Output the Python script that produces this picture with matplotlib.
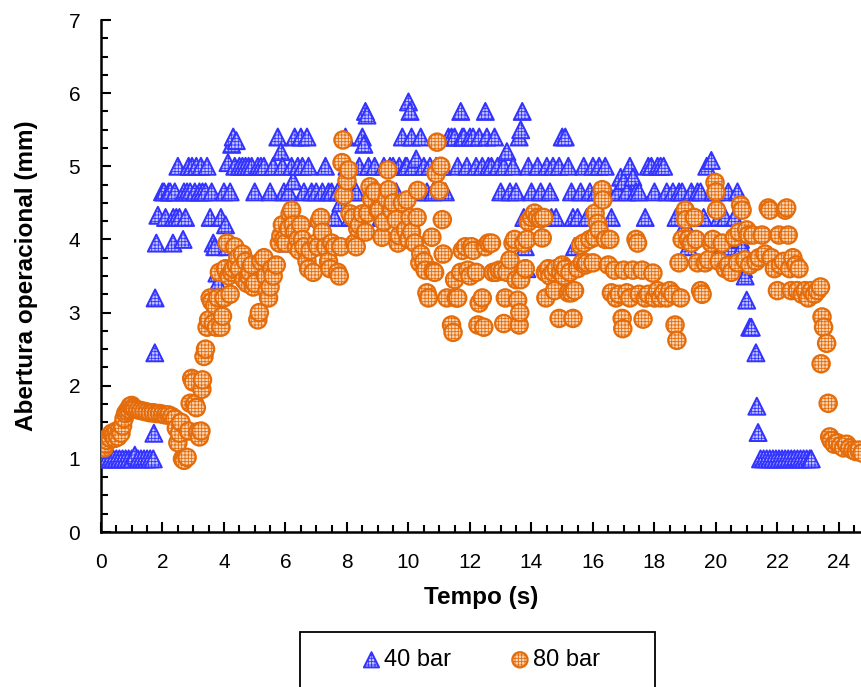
import matplotlib
matplotlib.use("Agg")
import matplotlib.pyplot as plt
from matplotlib.ticker import MultipleLocator
from matplotlib.patches import Rectangle

plt.rcParams['font.family'] = ['Liberation Sans', 'DejaVu Sans']
plt.rcParams['hatch.linewidth'] = 0.6

# ---------------- data: (tempo s, abertura mm) ----------------
pts40 = [
    (0.0, 1.0), (0.1, 1.0), (0.2, 1.0), (0.3, 1.0), (0.4, 1.0), (0.5, 1.0), (0.6, 1.0),
    (0.7, 1.0), (0.8, 1.0), (0.9, 1.0), (1.0, 1.0), (1.1, 1.05), (1.2, 1.0), (1.3, 1.0),
    (1.4, 1.0), (1.5, 1.0), (1.6, 1.0), (1.7, 1.0), (1.72, 1.35), (1.75, 2.45), (1.76, 3.2),
    (1.8, 3.95), (1.85, 4.33), (2.0, 4.65), (2.05, 4.65), (2.1, 4.3), (2.2, 4.65),
    (2.25, 4.65), (2.34, 3.95), (2.35, 4.3), (2.4, 4.65), (2.45, 4.3), (2.5, 5.0),
    (2.55, 4.3), (2.67, 4.0), (2.7, 4.65), (2.75, 4.3), (2.8, 4.65), (2.85, 5.0),
    (2.9, 4.65), (2.96, 5.0), (3.05, 4.65), (3.1, 5.0), (3.2, 4.65), (3.25, 5.0),
    (3.3, 4.65), (3.4, 4.65), (3.45, 5.0), (3.55, 4.3), (3.6, 4.65), (3.65, 3.95),
    (3.7, 3.9), (3.77, 3.54), (3.8, 3.4), (3.9, 4.3), (4.0, 4.65), (4.05, 4.2), (4.1, 3.9),
    (4.13, 5.05), (4.2, 4.65), (4.25, 5.3), (4.3, 5.4), (4.35, 5.0), (4.4, 5.35),
    (4.5, 5.0), (4.6, 5.0), (4.7, 5.0), (4.8, 5.0), (4.9, 5.0), (5.0, 4.65), (5.1, 5.0),
    (5.2, 5.0), (5.3, 5.0), (5.5, 4.65), (5.6, 5.0), (5.75, 5.4), (5.85, 5.2), (5.9, 5.0),
    (5.95, 4.65), (6.0, 4.3), (6.05, 3.95), (6.1, 4.65), (6.2, 5.0), (6.25, 4.8),
    (6.3, 5.4), (6.4, 5.0), (6.5, 5.4), (6.55, 5.0), (6.6, 4.65), (6.7, 5.4), (6.75, 5.0),
    (6.85, 4.65), (7.0, 4.65), (7.1, 4.3), (7.2, 4.65), (7.3, 5.0), (7.4, 4.65),
    (7.5, 4.65), (7.6, 4.3), (7.7, 4.65), (7.8, 4.5), (7.85, 4.65), (7.95, 5.4),
    (8.0, 5.0), (8.1, 4.3), (8.2, 4.65), (8.3, 4.65), (8.4, 5.0), (8.5, 5.4), (8.55, 5.3),
    (8.6, 5.75), (8.65, 5.7), (8.7, 5.0), (8.8, 4.65), (8.9, 5.0), (9.0, 4.65), (9.1, 4.3),
    (9.2, 5.0), (9.3, 4.65), (9.4, 5.0), (9.5, 5.0), (9.6, 4.65), (9.7, 5.0), (9.8, 5.4),
    (9.9, 5.0), (9.95, 5.0), (10.0, 5.88), (10.05, 5.75), (10.1, 5.4), (10.15, 5.0),
    (10.25, 5.1), (10.3, 4.65), (10.4, 5.4), (10.5, 5.0), (10.6, 4.65), (10.7, 5.0),
    (10.8, 4.65), (10.9, 5.0), (11.0, 5.0), (11.1, 5.0), (11.2, 4.65), (11.3, 5.4),
    (11.4, 5.4), (11.5, 5.4), (11.6, 5.0), (11.7, 5.75), (11.75, 5.4), (11.8, 5.4),
    (11.9, 5.0), (12.0, 5.4), (12.1, 5.4), (12.2, 5.0), (12.3, 5.4), (12.4, 5.0),
    (12.5, 5.75), (12.55, 5.4), (12.6, 5.0), (12.7, 5.0), (12.8, 5.4), (12.9, 5.0),
    (13.0, 4.65), (13.1, 5.0), (13.2, 5.2), (13.3, 4.65), (13.4, 5.0), (13.5, 4.65),
    (13.6, 5.4), (13.65, 5.5), (13.7, 5.75), (13.75, 4.3), (13.8, 3.9), (13.85, 3.6),
    (13.9, 5.0), (14.0, 4.65), (14.2, 5.0), (14.3, 4.65), (14.4, 4.3), (14.5, 5.0),
    (14.6, 4.65), (14.65, 4.3), (14.7, 5.0), (14.8, 4.3), (14.9, 5.0), (15.0, 5.4),
    (15.1, 5.4), (15.2, 5.0), (15.3, 4.65), (15.35, 4.3), (15.4, 3.9), (15.5, 4.3),
    (15.6, 4.65), (15.7, 5.0), (15.8, 4.3), (15.9, 4.65), (16.0, 5.0), (16.1, 4.65),
    (16.2, 5.0), (16.3, 4.65), (16.4, 5.0), (16.5, 4.65), (16.6, 4.3), (16.8, 4.65),
    (16.9, 4.85), (17.0, 4.8), (17.1, 4.65), (17.2, 5.0), (17.3, 4.85), (17.4, 4.65),
    (17.5, 4.65), (17.7, 4.3), (17.8, 5.0), (17.9, 5.0), (18.0, 4.65), (18.1, 5.0),
    (18.2, 5.0), (18.3, 5.0), (18.4, 4.65), (18.6, 4.65), (18.7, 4.3), (18.8, 4.65),
    (18.9, 4.65), (19.0, 4.2), (19.1, 3.9), (19.2, 4.65), (19.3, 4.3), (19.4, 4.65),
    (19.5, 4.65), (19.6, 4.3), (19.7, 5.0), (19.85, 5.08), (19.9, 4.65), (20.0, 4.65),
    (20.1, 4.3), (20.2, 3.9), (20.3, 4.3), (20.4, 4.65), (20.5, 3.9), (20.6, 4.3),
    (20.7, 4.65), (20.8, 4.0), (20.85, 3.9), (20.9, 3.6), (20.95, 3.5), (21.0, 3.17),
    (21.1, 2.8), (21.15, 2.8), (21.3, 2.45), (21.33, 1.72), (21.37, 1.36), (21.45, 1.0),
    (21.55, 1.0), (21.65, 1.0), (21.75, 1.0), (21.85, 1.0), (21.95, 1.0), (22.05, 1.0),
    (22.15, 1.0), (22.25, 1.0), (22.35, 1.0), (22.45, 1.0), (22.55, 1.0), (22.65, 1.0),
    (22.75, 1.0), (22.85, 1.0), (22.95, 1.0), (23.05, 1.0), (23.1, 1.0),
]

pts80 = [
    (0.0, 1.22), (0.05, 1.18), (0.1, 1.15), (0.15, 1.2), (0.2, 1.25), (0.25, 1.3),
    (0.3, 1.28), (0.35, 1.35), (0.4, 1.32), (0.45, 1.28), (0.5, 1.38), (0.55, 1.3),
    (0.6, 1.4), (0.65, 1.35), (0.7, 1.45), (0.75, 1.55), (0.8, 1.62), (0.85, 1.65),
    (0.9, 1.68), (0.95, 1.72), (1.0, 1.73), (1.05, 1.7), (1.1, 1.68), (1.2, 1.67),
    (1.3, 1.66), (1.4, 1.65), (1.5, 1.64), (1.6, 1.63), (1.7, 1.63), (1.8, 1.62),
    (1.9, 1.62), (2.0, 1.61), (2.1, 1.6), (2.2, 1.6), (2.3, 1.58), (2.4, 1.55),
    (2.45, 1.42), (2.5, 1.22), (2.55, 1.35), (2.6, 1.5), (2.65, 1.0), (2.7, 0.98),
    (2.8, 1.02), (2.85, 1.38), (2.9, 1.76), (2.95, 2.1), (3.0, 2.05), (3.05, 1.75),
    (3.1, 1.7), (3.15, 1.37), (3.2, 1.3), (3.25, 1.38), (3.28, 1.95), (3.3, 2.08),
    (3.35, 2.4), (3.4, 2.5), (3.45, 2.8), (3.5, 2.9), (3.55, 3.2), (3.6, 3.15),
    (3.65, 2.85), (3.7, 3.1), (3.75, 2.8), (3.8, 3.2), (3.85, 3.55), (3.9, 2.8),
    (3.95, 2.95), (4.0, 3.2), (4.05, 3.6), (4.1, 3.95), (4.15, 3.5), (4.2, 3.25),
    (4.25, 3.55), (4.3, 3.6), (4.35, 3.9), (4.4, 3.65), (4.45, 3.75), (4.5, 3.6),
    (4.6, 3.8), (4.65, 3.45), (4.7, 3.7), (4.75, 3.4), (4.8, 3.5), (4.85, 3.55),
    (4.9, 3.65), (4.95, 3.35), (5.0, 3.4), (5.1, 2.9), (5.15, 3.0), (5.2, 3.7),
    (5.3, 3.75), (5.35, 3.5), (5.4, 3.3), (5.45, 3.2), (5.5, 3.35), (5.55, 3.6),
    (5.6, 3.5), (5.7, 3.65), (5.8, 3.95), (5.85, 4.05), (5.9, 4.2), (5.95, 4.0),
    (6.0, 3.95), (6.1, 4.15), (6.15, 4.35), (6.2, 4.4), (6.25, 4.2), (6.3, 4.1),
    (6.35, 3.9), (6.4, 4.0), (6.45, 3.85), (6.5, 4.2), (6.55, 4.0), (6.6, 3.9),
    (6.7, 3.7), (6.75, 3.6), (6.8, 3.85), (6.9, 3.55), (7.0, 3.95), (7.05, 3.9),
    (7.1, 4.25), (7.15, 4.3), (7.2, 4.1), (7.3, 3.9), (7.4, 3.7), (7.45, 3.6),
    (7.5, 3.95), (7.6, 3.9), (7.7, 3.55), (7.75, 3.5), (7.8, 3.9), (7.84, 5.05),
    (7.87, 5.36), (7.9, 4.6), (8.0, 4.8), (8.05, 4.95), (8.1, 4.35), (8.2, 4.3),
    (8.25, 3.95), (8.3, 3.9), (8.35, 4.15), (8.4, 4.2), (8.5, 4.35), (8.6, 4.1),
    (8.68, 4.36), (8.75, 4.72), (8.8, 4.55), (8.9, 4.65), (9.0, 4.4), (9.05, 4.4),
    (9.14, 4.03), (9.2, 4.24), (9.3, 4.55), (9.33, 4.95), (9.35, 4.68), (9.45, 4.4),
    (9.5, 4.5), (9.6, 4.27), (9.66, 3.95), (9.7, 4.05), (9.8, 4.5), (9.9, 4.13),
    (9.95, 4.54), (10.0, 4.0), (10.05, 4.3), (10.1, 4.1), (10.2, 3.95), (10.28, 4.3),
    (10.3, 4.67), (10.37, 3.68), (10.4, 3.8), (10.5, 3.7), (10.54, 3.58), (10.6, 3.27),
    (10.65, 3.2), (10.76, 4.03), (10.8, 3.57), (10.85, 3.55), (10.9, 4.9), (10.93, 5.33),
    (11.0, 4.67), (11.05, 5.0), (11.1, 4.27), (11.13, 3.8), (11.25, 3.2), (11.4, 2.83),
    (11.45, 2.73), (11.5, 3.45), (11.55, 3.2), (11.6, 3.2), (11.7, 3.55), (11.75, 3.85),
    (11.85, 3.9), (11.93, 3.58), (12.0, 3.5), (12.05, 3.9), (12.1, 3.85), (12.2, 3.55),
    (12.26, 2.83), (12.3, 3.13), (12.4, 3.2), (12.45, 2.8), (12.5, 3.9), (12.6, 3.95),
    (12.7, 3.95), (12.75, 3.55), (12.85, 3.55), (12.95, 3.58), (13.05, 3.57), (13.1, 2.85),
    (13.15, 3.2), (13.2, 3.55), (13.3, 3.72), (13.4, 3.95), (13.45, 4.0), (13.5, 3.45),
    (13.55, 3.17), (13.6, 2.83), (13.62, 3.0), (13.65, 3.45), (13.75, 3.95), (13.8, 3.6),
    (13.85, 4.0), (13.9, 4.24), (14.0, 4.3), (14.1, 4.36), (14.2, 4.3), (14.3, 4.28),
    (14.35, 4.02), (14.4, 4.3), (14.45, 3.55), (14.47, 3.2), (14.55, 3.6), (14.6, 3.5),
    (14.7, 3.55), (14.75, 3.3), (14.8, 3.6), (14.9, 2.92), (14.95, 3.55), (15.0, 3.65),
    (15.05, 3.5), (15.1, 3.6), (15.2, 3.27), (15.25, 3.55), (15.3, 3.27), (15.35, 2.92),
    (15.4, 3.3), (15.5, 3.6), (15.6, 3.92), (15.65, 3.68), (15.7, 3.95), (15.75, 3.65),
    (15.8, 3.68), (15.9, 4.0), (16.0, 3.68), (16.05, 4.03), (16.07, 4.36), (16.15, 4.22),
    (16.2, 4.13), (16.3, 4.68), (16.32, 4.54), (16.4, 4.0), (16.5, 3.65), (16.55, 4.0),
    (16.6, 3.27), (16.7, 3.58), (16.75, 3.2), (16.85, 3.25), (16.95, 2.92), (16.97, 2.78),
    (17.0, 3.58), (17.1, 3.27), (17.2, 3.2), (17.3, 3.58), (17.4, 4.0), (17.45, 3.95),
    (17.5, 3.25), (17.6, 3.58), (17.63, 2.91), (17.7, 3.2), (17.8, 3.25), (17.95, 3.54),
    (18.0, 3.2), (18.1, 3.3), (18.2, 3.2), (18.3, 3.27), (18.4, 3.2), (18.5, 3.3),
    (18.6, 3.25), (18.67, 2.83), (18.73, 2.62), (18.8, 3.68), (18.85, 3.2), (18.9, 4.0),
    (19.0, 4.4), (19.02, 4.27), (19.1, 4.0), (19.2, 3.95), (19.3, 4.3), (19.35, 4.0),
    (19.4, 3.68), (19.5, 3.3), (19.55, 3.25), (19.65, 3.68), (19.75, 3.72), (19.85, 3.95),
    (19.9, 4.0), (19.97, 4.78), (20.0, 4.65), (20.02, 4.4), (20.1, 3.7), (20.2, 3.95),
    (20.3, 3.6), (20.4, 3.65), (20.5, 3.55), (20.6, 4.03), (20.7, 3.68), (20.75, 4.1),
    (20.8, 4.47), (20.85, 4.4), (20.94, 3.72), (21.0, 4.13), (21.05, 4.06), (21.1, 3.65),
    (21.2, 4.06), (21.3, 3.7), (21.4, 3.75), (21.5, 4.06), (21.6, 3.8), (21.7, 4.43),
    (21.75, 4.4), (21.8, 3.75), (21.9, 3.6), (22.0, 3.3), (22.05, 4.06), (22.1, 3.65),
    (22.2, 3.7), (22.25, 4.4), (22.3, 4.43), (22.35, 4.06), (22.4, 3.6), (22.45, 3.3),
    (22.5, 3.75), (22.6, 3.65), (22.65, 3.3), (22.7, 3.6), (22.8, 3.25), (22.9, 3.3),
    (23.0, 3.2), (23.1, 3.3), (23.2, 3.25), (23.3, 3.3), (23.4, 3.35), (23.42, 2.3),
    (23.45, 2.94), (23.5, 2.8), (23.6, 2.58), (23.65, 1.76), (23.7, 1.3), (23.75, 1.25),
    (23.85, 1.2), (23.95, 1.22), (24.05, 1.18), (24.15, 1.15), (24.25, 1.2), (24.35, 1.15),
    (24.45, 1.12), (24.55, 1.1), (24.65, 1.12), (24.75, 1.08),
]

labels = ['40 bar', '80 bar']
xticks = [0, 2, 4, 6, 8, 10, 12, 14, 16, 18, 20, 22, 24]
yticks = [0, 1, 2, 3, 4, 5, 6, 7]

t40, v40 = zip(*pts40)
t80, v80 = zip(*pts80)

# ---------------- figure ----------------
W, H = 862, 687
fig = plt.figure(figsize=(W / 100, H / 100), dpi=100)
ax = fig.add_axes([101 / W, 1 - 532 / H, 1 - 101 / W, (532 - 20) / H])

s40 = ax.scatter(t40, v40, marker='^', s=150, facecolors='#c4c4ff', edgecolors='#3333ff',
                 linewidths=1.4, hatch='+++++', label=labels[0], zorder=3)
s80 = ax.scatter(t80, v80, marker='o', s=155, facecolors='#fbd5b5', edgecolors='#e46c0a',
                 linewidths=1.6, hatch='+++++', label=labels[1], zorder=4)

ax.set_xlim(0, 24.75)
ax.set_ylim(0, 7)
ax.set_xticks(xticks)
ax.set_yticks(yticks)
ax.xaxis.set_minor_locator(MultipleLocator(0.5))
ax.yaxis.set_minor_locator(MultipleLocator(0.25))
ax.tick_params(which='both', direction='in', labelsize=15, width=1.5, pad=15)
ax.tick_params(which='major', length=7)
ax.tick_params(which='minor', length=5)
for side in ['top', 'right']:
    ax.spines[side].set_visible(False)
for side in ['left', 'bottom']:
    ax.spines[side].set_linewidth(1.8)

ax.set_xlabel('Tempo (s)', fontsize=17.5, fontweight='bold', labelpad=10)
ax.set_ylabel('Abertura operacional (mm)', fontsize=17.5, fontweight='bold', labelpad=22)

# legend box (frame drawn as a figure rectangle, extends past the bottom edge)
fig.patches.append(Rectangle((300 / W, -0.02), 355 / W, 0.02 + 55 / H,
                             transform=fig.transFigure, fill=False,
                             edgecolor='black', linewidth=1.3))
leg = fig.legend(handles=[s40, s80], labels=labels, loc='center',
                 bbox_to_anchor=(481 / W, 1 - 660 / H), ncol=2, fontsize=17,
                 frameon=False, handletextpad=0.15, columnspacing=2.5,
                 handlelength=0.8, borderpad=0, borderaxespad=0)
for h in leg.legend_handles:
    h.set_sizes([120])

fig.savefig('out.png', dpi=100)
